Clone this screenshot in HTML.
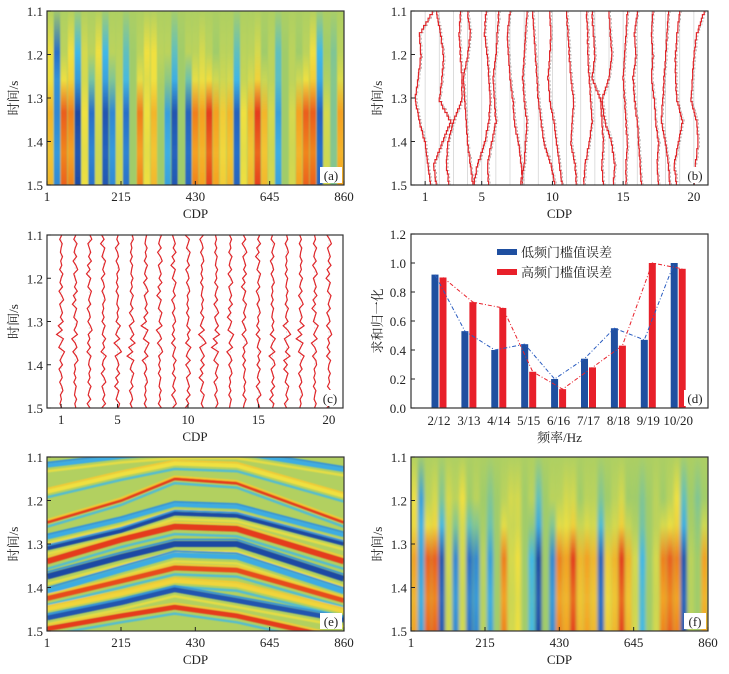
<!DOCTYPE html>
<html><head><meta charset="utf-8">
<style>
body{margin:0;background:#fff;}
svg{display:block;font-family:"Liberation Serif","Noto Serif CJK SC",serif;}
.tk{font-size:13px;fill:#222;}
.lab{font-size:13px;fill:#222;font-family:"Liberation Serif","Noto Serif CJK SC",serif;}
</style></head>
<body>
<svg id="fig" width="729" height="674" viewBox="0 0 729 674" xmlns="http://www.w3.org/2000/svg">
<defs>
<filter id="blurA" x="-5%" y="-5%" width="110%" height="110%"><feGaussianBlur stdDeviation="0.8 1"/></filter>
<filter id="blurF" x="-5%" y="-5%" width="110%" height="110%"><feGaussianBlur stdDeviation="1.6 2"/></filter>
<filter id="blurE" x="-5%" y="-5%" width="110%" height="110%"><feGaussianBlur stdDeviation="0.8 0.6"/></filter>
</defs>
</svg>
<script>
// ---------- data ----------
const cdpCenters = [10,30,50,70,90,110,130,150,170,190,210,230,250,270,290,310,330,350,370,390,410,430,450,470,490,510,530,550,570,590,610,630,650,670,690,710,730,750,770,790,810,830,850];
const aTop = [0.3,-0.6,0.1,0.3,-0.3,0.2,0.1,0.3,-0.3,0.1,0.1,-0.2,0.0,0.1,0.3,0.3,0.1,0.1,-0.2,0.0,0.1,0.1,0.2,0.1,0.0,0.1,0.1,-0.2,0.1,0.1,0.2,0.0,0.1,-0.2,0.0,0.1,0.0,0.1,0.3,-0.3,0.0,-0.1,0.1];
const aLow = [0.5,-0.5,0.8,0.7,-0.9,0.3,-0.6,0.2,-0.8,-0.5,0.2,-0.6,0.0,0.7,0.3,0.5,0.0,-0.4,-0.8,0.0,-0.7,0.7,0.6,0.9,0.6,0.4,0.5,-0.7,0.3,0.5,0.9,0.5,0.2,-0.4,0.0,0.2,0.6,0.8,0.8,-0.7,0.2,-0.1,0.6];
const fTop = [0.3,-0.4,0.1,0.2,-0.1,0.2,0.1,0.3,0.0,0.1,0.0,-0.1,0.0,0.1,0.2,0.2,0.0,0.1,-0.2,0.0,0.1,0.1,0.2,0.2,0.0,0.1,0.1,-0.1,0.0,0.1,0.2,0.0,0.0,-0.1,0.0,0.1,0.0,0.1,0.3,-0.2,0.0,-0.1,0.0];
const fLow = [0.6,-0.4,0.8,0.8,-0.8,0.2,-0.5,0.2,-0.6,-0.5,0.1,-0.4,0.0,0.7,0.2,0.3,0.0,-0.3,-0.9,0.0,-0.5,0.7,0.6,0.9,0.5,0.6,0.5,-0.7,0.4,0.5,0.9,0.5,0.2,-0.3,0.0,0.2,0.7,0.8,0.7,-0.8,0.1,0.0,0.6];
// panel e horizons: times at control CDPs
const eCtrl = [1,215,370,550,860];
const eHorizons = [
 {t:[1.12,1.10,1.09,1.09,1.13], v:-0.35, w:4},
 {t:[1.18,1.14,1.115,1.12,1.19], v:0.3, w:4},
 {t:[1.25,1.20,1.15,1.16,1.25], v:0.9, w:3},
 {t:[1.285,1.245,1.21,1.215,1.28], v:-0.35, w:4},
 {t:[1.31,1.27,1.23,1.235,1.30], v:-0.9, w:4},
 {t:[1.34,1.29,1.26,1.265,1.34], v:0.9, w:6},
 {t:[1.375,1.33,1.30,1.30,1.38], v:-0.9, w:6},
 {t:[1.41,1.36,1.325,1.33,1.41], v:-0.35, w:5},
 {t:[1.425,1.385,1.355,1.36,1.43], v:0.85, w:5},
 {t:[1.45,1.415,1.385,1.395,1.455], v:0.35, w:4},
 {t:[1.47,1.435,1.405,1.43,1.475], v:-0.8, w:5},
 {t:[1.495,1.465,1.445,1.465,1.52], v:0.9, w:5}
];
// panel d
const dCats = ["2/12","3/13","4/14","5/15","6/16","7/17","8/18","9/19","10/20"];
const dLow = [0.92,0.53,0.40,0.44,0.20,0.34,0.55,0.47,1.00];
const dHigh = [0.90,0.73,0.69,0.25,0.13,0.28,0.43,1.00,0.96];
const dTicks = [0,0.2,0.4,0.6,0.8,1.0,1.2];
// panel b: trace offsets (CDP units) at times 1.10..1.50 step 0.05
const bTimes = [1.10,1.15,1.20,1.25,1.30,1.35,1.40,1.45,1.50];
const bOffsets = [
 [0.5,-0.4,-0.3,-0.5,-0.7,-0.4,0.0,0.2,0.4],[-0.2,0.1,0.3,0.2,0.0,0.8,0.2,-0.4,-0.2],
 [0.5,0.4,0.5,0.6,0.6,0.0,-0.4,-0.5,-0.3],[0.0,0.2,0.0,-0.3,-0.2,-0.1,0.0,0.2,0.4],
 [0.3,0.2,0.4,0.5,0.6,0.5,0.2,-0.3,-0.6],[0.2,0.1,0.0,-0.2,-0.1,0.0,-0.3,-0.6,-0.5],
 [0.0,-0.2,-0.1,0.0,0.2,0.3,0.6,0.8,0.9],[0.2,0.1,0.0,-0.1,0.0,0.2,0.1,0.0,-0.3],
 [-0.4,-0.3,-0.2,-0.1,0.0,0.2,0.4,0.9,1.2],[-0.2,-0.1,-0.2,-0.3,-0.2,0.1,0.3,0.5,0.7],
 [0.0,0.1,0.2,0.3,0.5,0.4,0.3,0.6,0.7],[0.4,0.5,0.5,0.6,0.7,0.8,0.6,0.3,0.2],
 [-0.2,-0.1,0.0,-0.2,0.4,0.5,0.6,0.5,0.6],[0.0,0.1,0.2,0.0,-0.5,-0.3,0.2,0.4,0.3],
 [0.3,0.2,0.1,0.0,0.1,0.2,0.3,0.2,0.2],[0.0,-0.2,-0.1,-0.3,-0.2,0.0,0.1,0.2,0.3],
 [0.1,0.0,0.1,0.0,0.2,0.3,0.5,0.4,0.5],[0.2,0.1,0.0,-0.1,-0.2,-0.3,0.0,0.2,0.3],
 [0.0,-0.2,-0.3,-0.3,-0.2,0.2,-0.1,-0.4,-0.2],[0.7,0.2,0.0,-0.1,-0.2,0.2,0.3,0.1,0.0]
];
// panel c: wiggle pattern (CDP units)
const cWiggle = [0.1,-0.2,0.15,0.0,-0.1,0.2,-0.05,0.1,-0.2,0.25,0.0,-0.15,0.2,-0.3,0.1,0.35,-0.2,0.0,0.2,-0.1,0.3,-0.25,0.1,-0.4,0.2,0.0,-0.2,0.3,0.1,-0.1,0.2,-0.3,0.0,0.15,-0.2,0.1,0.25,-0.1,0.05,-0.15];
const cdpTicks = [1,215,430,645,860];
const traceTicks = [1,5,10,15,20];
const timeTicks = [1.1,1.2,1.3,1.4,1.5];

// ---------- helpers ----------
const NS="http://www.w3.org/2000/svg";
const svg=document.getElementById('fig');
const defs=svg.querySelector('defs');
function mk(tag,attrs,parent){const e=document.createElementNS(NS,tag);for(const k in attrs)e.setAttribute(k,attrs[k]);(parent||svg).appendChild(e);return e;}
const stops=[[-1,[26,60,150]],[-0.6,[40,110,200]],[-0.3,[64,184,232]],[0,[160,204,106]],[0.3,[240,224,64]],[0.6,[245,160,32]],[1,[224,24,24]]];
function cmap(v){v=Math.max(-1,Math.min(1,v));for(let i=0;i<stops.length-1;i++){const a=stops[i],b=stops[i+1];if(v<=b[0]){const f=(v-a[0])/(b[0]-a[0]);const c=a[1].map((x,j)=>Math.round(x+(b[1][j]-x)*f));return `rgb(${c[0]},${c[1]},${c[2]})`;}}return 'rgb(224,24,24)';}

function panelFrame(P,name){
  const g=mk('g',{});
  
  
  return g;
}
function yAxis(P,g){
  const yt=t=>P.y0+(t-1.1)/0.4*(P.y1-P.y0);
  timeTicks.forEach(t=>{
    const l=mk('line',{x1:P.x0,x2:P.x0+4,y1:yt(t),y2:yt(t),stroke:'#222'},g);
    
    
    const tx=mk('text',{x:P.x0-4,y:yt(t)+5,'text-anchor':'end',class:'tk'},g);
    tx.textContent=t.toFixed(1);
    
    
  });
  const lab=mk('text',{x:0,y:0,class:'lab',transform:`translate(${P.x0-29},${(P.y0+P.y1)/2}) rotate(-90)`,'text-anchor':'middle'},g);
  lab.textContent='时间/s';
  
  
}
function xAxis(P,g,ticks,xf){
  ticks.forEach(v=>{
    const x=xf(v);
    const l=mk('line',{x1:x,x2:x,y1:P.y1,y2:P.y1-4,stroke:'#222'},g);
    
    
    const tx=mk('text',{x:x,y:P.y1+16,'text-anchor':'middle',class:'tk'},g);
    tx.textContent=v;
    
    
  });
  const lab=mk('text',{x:(P.x0+P.x1)/2,y:P.y1+33,'text-anchor':'middle',class:'lab'},g);
  lab.textContent='CDP';
  
  
}
function border(P,g){
  const r=mk('rect',{x:P.x0,y:P.y0,width:P.x1-P.x0,height:P.y1-P.y0,fill:'none',stroke:'#333','stroke-width':1.2},g);
  
  
}
function tag(P,g,txt){
  const r=mk('rect',{x:P.x1-24,y:P.y1-18,width:22,height:16,fill:'#fff'},g);
  
  
  const t=mk('text',{x:P.x1-13,y:P.y1-5,'text-anchor':'middle',class:'tk'},g);
  t.textContent=txt;
  
  
}
function clip(P,id){const c=mk('clipPath',{id:id},defs);mk('rect',{x:P.x0,y:P.y0,width:P.x1-P.x0,height:P.y1-P.y0},c);}

function heatPanel(P,id,top,low,blur,name,label){
  const g=panelFrame(P,name);
  clip(P,'clip'+id);
  const xf=c=>P.x0+(c-1)/859*(P.x1-P.x0);
  const bg=mk('rect',{x:P.x0,y:P.y0,width:P.x1-P.x0,height:P.y1-P.y0,fill:cmap(0.05)},g);
  
  
  const hg=mk('g',{'clip-path':`url(#clip${id})`},g);
  const inner=mk('g',{filter:`url(#${blur})`},hg);
  cdpCenters.forEach((c,i)=>{
    const gr=mk('linearGradient',{id:`gr${id}${i}`,x1:0,y1:0,x2:0,y2:1},defs);
    mk('stop',{offset:'0',  'stop-color':cmap(0.05)},gr);
    mk('stop',{offset:'0.25','stop-color':cmap(top[i])},gr);
    mk('stop',{offset:'0.4','stop-color':cmap(top[i]*0.5+low[i]*0.3)},gr);
    mk('stop',{offset:'0.58','stop-color':cmap(low[i])},gr);
    mk('stop',{offset:'0.8','stop-color':cmap(low[i]*0.85)},gr);
    mk('stop',{offset:'1',  'stop-color':cmap(low[i])},gr);
    const w=xf(c+10)-xf(c-10);
    const r=mk('rect',{x:xf(c-10)+w*0.05,y:P.y0-4,width:w*0.9,height:P.y1-P.y0+8,fill:`url(#gr${id}${i})`},inner);
    
    
  });
  border(P,g);yAxis(P,g);xAxis(P,g,cdpTicks,xf);tag(P,g,label);
}

// ---------- panel a ----------
heatPanel({x0:47,x1:344,y0:11,y1:185},'a',aTop,aLow,'blurA','panel-a','(a)');
// ---------- panel f ----------
heatPanel({x0:411,x1:708,y0:457,y1:631},'f',fTop,fLow,'blurF','panel-f','(f)');

// ---------- panel e ----------
(function(){
  const P={x0:47,x1:344,y0:457,y1:631};
  const g=panelFrame(P,'panel-e');
  clip(P,'clipe');
  const xf=c=>P.x0+(c-1)/859*(P.x1-P.x0);
  const yt=t=>P.y0+(t-1.1)/0.4*(P.y1-P.y0);
  const bg=mk('rect',{x:P.x0,y:P.y0,width:P.x1-P.x0,height:P.y1-P.y0,fill:'rgb(178,208,96)'},g);
  
  
  const hg=mk('g',{'clip-path':'url(#clipe)'},g);
  const inner=mk('g',{filter:'url(#blurE)'},hg);
  eHorizons.forEach(h=>{
    const d=eCtrl.map((c,i)=>`${i?'L':'M'}${xf(c).toFixed(1)},${(yt(h.t[i])+h.w+1.5).toFixed(1)}`).join('');
    const p=mk('path',{d:d,fill:'none',stroke:cmap(h.v>0?-0.3:0.3),'stroke-width':2.5,opacity:0.8},inner);
    
    
  });
  eHorizons.forEach(h=>{
    const d=eCtrl.map((c,i)=>`${i?'L':'M'}${xf(c).toFixed(1)},${yt(h.t[i]).toFixed(1)}`).join('');
    const p=mk('path',{d:d,fill:'none',stroke:cmap(h.v),'stroke-width':h.w},inner);
    
    
    const p2=mk('path',{d:d,fill:'none',stroke:cmap(h.v>0?0.4:-0.45),'stroke-width':1.8,transform:`translate(0,${-h.w*0.75})`},inner);
    
    
  });
  border(P,g);yAxis(P,g);xAxis(P,g,cdpTicks,xf);tag(P,g,'(e)');
})();

// ---------- panel b ----------
(function(){
  const P={x0:411,x1:708,y0:11,y1:185};
  const g=panelFrame(P,'panel-b');
  clip(P,'clipb');
  const xf=c=>P.x0+c/21*(P.x1-P.x0);
  const yt=t=>P.y0+(t-1.1)/0.4*(P.y1-P.y0);
  const hg=mk('g',{'clip-path':'url(#clipb)'},g);
  for(let i=1;i<=20;i++){
    const l=mk('line',{x1:xf(i),x2:xf(i),y1:P.y0,y2:P.y1,stroke:'#d4d4d4','stroke-width':0.8},hg);
    
    
  }
  bOffsets.forEach((offs,k)=>{
    let d='';
    for(let j=0;j<bTimes.length-1;j++){
      const n=6;
      for(let s=0;s<n;s++){
        const f=s/n;
        const o=offs[j]+(offs[j+1]-offs[j])*f+cWiggle[(k*5+j*n+s)%cWiggle.length]*0.08;
        const t=bTimes[j]+(bTimes[j+1]-bTimes[j])*f;
        const x=xf(k+1+o).toFixed(1),y=yt(t).toFixed(1),y2=yt(t+0.05/n).toFixed(1);
        d+=(d?'L':'M')+x+','+y+'L'+x+','+y2;
      }
    }
    const ref=mk('path',{d:d,fill:'none',stroke:'#aaa','stroke-width':0.8,'stroke-dasharray':'2 2',transform:'translate(1.5,0)'},hg);
    
    
    const p=mk('path',{d:d,fill:'none',stroke:'#e0262a','stroke-width':1.2},hg);
    
    
  });
  border(P,g);yAxis(P,g);xAxis(P,g,traceTicks,xf);tag(P,g,'(b)');
})();

// ---------- panel c ----------
(function(){
  const P={x0:47,x1:343,y0:235,y1:408};
  const g=panelFrame(P,'panel-c');
  clip(P,'clipc');
  const xf=c=>P.x0+c/21*(P.x1-P.x0);
  const yt=t=>P.y0+(t-1.1)/0.4*(P.y1-P.y0);
  const hg=mk('g',{'clip-path':'url(#clipc)'},g);
  for(let k=0;k<20;k++){
    let d='';
    const n=40;
    for(let s=0;s<=n;s++){
      const o=cWiggle[(s+k*7)%cWiggle.length]*(s>20&&s<30?0.8:0.5);
      const t=1.1+0.4*s/n;
      d+=(d?'L':'M')+xf(k+1+o).toFixed(1)+','+yt(t).toFixed(1);
    }
    const base=mk('line',{x1:xf(k+1),x2:xf(k+1),y1:P.y0,y2:P.y1,stroke:'#ddd','stroke-width':0.8,'stroke-dasharray':'2 2'},hg);
    
    
    const p=mk('path',{d:d,fill:'none',stroke:'#e0262a','stroke-width':1.2},hg);
    
    
  }
  border(P,g);yAxis(P,g);xAxis(P,g,traceTicks,xf);tag(P,g,'(c)');
})();

// ---------- panel d ----------
(function(){
  const P={x0:411,x1:708,y0:234,y1:408};
  const g=panelFrame(P,'panel-d');
  const xf=i=>439+i*29.9;
  const yv=v=>P.y1-v/1.2*(P.y1-P.y0);
  dLow.forEach((v,i)=>{
    const r=mk('rect',{x:xf(i)-7.5,y:yv(v),width:7,height:P.y1-yv(v),fill:'#1f4fa0'},g);
    
    
  });
  dHigh.forEach((v,i)=>{
    const r=mk('rect',{x:xf(i)+0.5,y:yv(v),width:7,height:P.y1-yv(v),fill:'#e8202a'},g);
    
    
  });
  const lowLine=mk('polyline',{points:dLow.map((v,i)=>`${xf(i)-4},${yv(v)}`).join(' '),fill:'none',stroke:'#2a5cc0','stroke-width':1,'stroke-dasharray':'4 2 1 2'},g);
  
  
  const highLine=mk('polyline',{points:dHigh.map((v,i)=>`${xf(i)+4},${yv(v)}`).join(' '),fill:'none',stroke:'#e8202a','stroke-width':1,'stroke-dasharray':'4 2 1 2'},g);
  
  
  border(P,g);
  dTicks.forEach(v=>{
    const l=mk('line',{x1:P.x0,x2:P.x0+4,y1:yv(v),y2:yv(v),stroke:'#222'},g);
    
    
    const t=mk('text',{x:P.x0-5,y:yv(v)+5,'text-anchor':'end',class:'tk'},g);
    t.textContent=v.toFixed(1);
    
    
  });
  dCats.forEach((c,i)=>{
    const t=mk('text',{x:xf(i),y:P.y1+17,'text-anchor':'middle',class:'tk'},g);
    t.textContent=c;
    
    
  });
  const xl=mk('text',{x:(P.x0+P.x1)/2,y:P.y1+34,'text-anchor':'middle',class:'lab'},g);
  xl.textContent='频率/Hz';
  
  
  const yl=mk('text',{x:0,y:0,class:'lab','text-anchor':'middle',transform:`translate(382,${(P.y0+P.y1)/2}) rotate(-90)`},g);
  yl.textContent='求和归一化';
  
  
  const s1=mk('rect',{x:497,y:249,width:20,height:6,fill:'#1f4fa0'},g);
  
  
  const t1=mk('text',{x:521,y:257,class:'lab'},g);
  t1.textContent='低频门槛值误差';
  
  
  const s2=mk('rect',{x:497,y:269,width:20,height:6,fill:'#e8202a'},g);
  
  
  const t2=mk('text',{x:521,y:277,class:'lab'},g);
  t2.textContent='高频门槛值误差';
  
  
  tag(P,g,'(d)');
})();
</script>
</body></html>
